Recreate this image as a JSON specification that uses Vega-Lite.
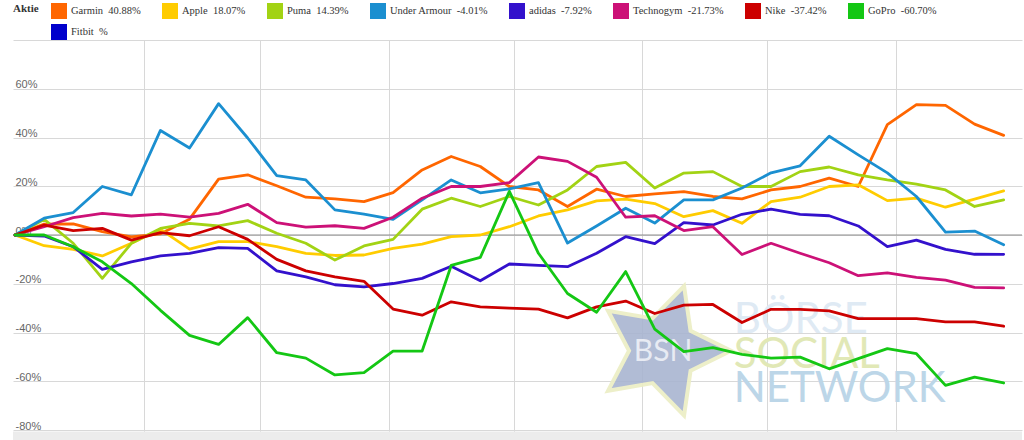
{
  "$schema": "https://vega.github.io/schema/vega-lite/v6.json",
  "width": 1009,
  "height": 400,
  "autosize": {"type": "none"},
  "padding": {"left": 13, "top": 40, "right": 2, "bottom": 0},
  "background": "white",
  "config": {"view": {"stroke": null}, "font": "Liberation Sans"},
  "datasets": {
    "kurse": [
      {"d": "2018-01-01", "Garmin": 0, "Apple": 0, "Puma": 0, "Under Armour": 0, "adidas": 0, "Technogym": 0, "Nike": 0, "GoPro": 0},
      {"d": "2018-01-08", "Garmin": 4.5, "Apple": -4.4, "Puma": 6.4, "Under Armour": 6.9, "adidas": -0.4, "Technogym": 3.4, "Nike": 4.1, "GoPro": 0},
      {"d": "2018-01-15", "Garmin": 4.6, "Apple": -5.9, "Puma": -3.4, "Under Armour": 9.2, "adidas": -4.8, "Technogym": 7.1, "Nike": 1.8, "GoPro": -4.8},
      {"d": "2018-01-22", "Garmin": 1.4, "Apple": -8.6, "Puma": -17.8, "Under Armour": 19.9, "adidas": -14.1, "Technogym": 8.9, "Nike": 2.7, "GoPro": -11},
      {"d": "2018-01-29", "Garmin": -0.8, "Apple": -3.4, "Puma": -3.4, "Under Armour": 16.5, "adidas": -11, "Technogym": 7.8, "Nike": -2.1, "GoPro": -19.9},
      {"d": "2018-02-05", "Garmin": 0.5, "Apple": 2.3, "Puma": 2.7, "Under Armour": 42.9, "adidas": -8.6, "Technogym": 8.6, "Nike": 1, "GoPro": -30.9},
      {"d": "2018-02-12", "Garmin": 6.5, "Apple": -5.8, "Puma": 4.8, "Under Armour": 35.7, "adidas": -7.5, "Technogym": 7.3, "Nike": -0.3, "GoPro": -41.2},
      {"d": "2018-02-19", "Garmin": 22.9, "Apple": -2.7, "Puma": 3.7, "Under Armour": 53.9, "adidas": -5.2, "Technogym": 8.9, "Nike": 3.4, "GoPro": -44.9},
      {"d": "2018-02-26", "Garmin": 24.7, "Apple": -2.7, "Puma": 5.9, "Under Armour": 39.8, "adidas": -5.5, "Technogym": 12.6, "Nike": -1.8, "GoPro": -33.9},
      {"d": "2018-03-05", "Garmin": 20.2, "Apple": -4.8, "Puma": 0.7, "Under Armour": 24.4, "adidas": -14.7, "Technogym": 5.1, "Nike": -10, "GoPro": -48.3},
      {"d": "2018-03-12", "Garmin": 15.5, "Apple": -7.5, "Puma": -3.4, "Under Armour": 22.6, "adidas": -17.2, "Technogym": 3.2, "Nike": -14.7, "GoPro": -50.5},
      {"d": "2018-03-19", "Garmin": 14.8, "Apple": -8.4, "Puma": -10.3, "Under Armour": 10.3, "adidas": -20.4, "Technogym": 3.8, "Nike": -17.2, "GoPro": -57.4},
      {"d": "2018-03-26", "Garmin": 13.7, "Apple": -8.2, "Puma": -4.5, "Under Armour": 8.6, "adidas": -21.3, "Technogym": 2.7, "Nike": -19, "GoPro": -56.5},
      {"d": "2018-04-02", "Garmin": 17.4, "Apple": -5.5, "Puma": -1.8, "Under Armour": 6.4, "adidas": -19.9, "Technogym": 7.3, "Nike": -30.4, "GoPro": -47.6},
      {"d": "2018-04-09", "Garmin": 26.7, "Apple": -3.7, "Puma": 10.6, "Under Armour": 14.4, "adidas": -17.8, "Technogym": 15.1, "Nike": -32.9, "GoPro": -47.6},
      {"d": "2018-04-16", "Garmin": 32.2, "Apple": -0.7, "Puma": 15.1, "Under Armour": 22.6, "adidas": -12.8, "Technogym": 19.9, "Nike": -27.4, "GoPro": -12.5},
      {"d": "2018-04-23", "Garmin": 28.1, "Apple": 0, "Puma": 11.7, "Under Armour": 17.3, "adidas": -18.8, "Technogym": 19.9, "Nike": -29.5, "GoPro": -9.2},
      {"d": "2018-04-30", "Garmin": 19.9, "Apple": 3.4, "Puma": 15.8, "Under Armour": 18.9, "adidas": -11.9, "Technogym": 21.5, "Nike": -30, "GoPro": 17.9},
      {"d": "2018-05-07", "Garmin": 18.5, "Apple": 7.8, "Puma": 12.3, "Under Armour": 21.5, "adidas": -12.5, "Technogym": 32, "Nike": -30.4, "GoPro": -7.5},
      {"d": "2018-05-14", "Garmin": 11.7, "Apple": 10.3, "Puma": 18.5, "Under Armour": -3.3, "adidas": -13, "Technogym": 30.2, "Nike": -34, "GoPro": -24},
      {"d": "2018-05-21", "Garmin": 18.8, "Apple": 14, "Puma": 28.1, "Under Armour": 3.7, "adidas": -7.5, "Technogym": 23.7, "Nike": -29.5, "GoPro": -31.7},
      {"d": "2018-05-28", "Garmin": 15.8, "Apple": 14.7, "Puma": 29.8, "Under Armour": 11, "adidas": -0.7, "Technogym": 7.3, "Nike": -27.1, "GoPro": -15},
      {"d": "2018-06-04", "Garmin": 16.9, "Apple": 12.9, "Puma": 19.3, "Under Armour": 4.9, "adidas": -3.5, "Technogym": 7.9, "Nike": -32.2, "GoPro": -38.6},
      {"d": "2018-06-11", "Garmin": 17.8, "Apple": 7.5, "Puma": 25.4, "Under Armour": 14.4, "adidas": 5.1, "Technogym": 1.8, "Nike": -28.8, "GoPro": -47.8},
      {"d": "2018-06-18", "Garmin": 15.8, "Apple": 10, "Puma": 26, "Under Armour": 14.4, "adidas": 4.1, "Technogym": 3.4, "Nike": -28.5, "GoPro": -46.2},
      {"d": "2018-06-25", "Garmin": 14.8, "Apple": 4.8, "Puma": 19.9, "Under Armour": 19.3, "adidas": 8.5, "Technogym": -8, "Nike": -35.9, "GoPro": -49},
      {"d": "2018-07-02", "Garmin": 18.5, "Apple": 13.7, "Puma": 19.9, "Under Armour": 25.5, "adidas": 10.6, "Technogym": -3.4, "Nike": -30.5, "GoPro": -50.5},
      {"d": "2018-07-09", "Garmin": 19.9, "Apple": 15.5, "Puma": 26, "Under Armour": 28.4, "adidas": 8.5, "Technogym": -7.5, "Nike": -30.5, "GoPro": -50.1},
      {"d": "2018-07-16", "Garmin": 23.3, "Apple": 19.9, "Puma": 27.9, "Under Armour": 40.5, "adidas": 7.9, "Technogym": -11.4, "Nike": -31.1, "GoPro": -54.9},
      {"d": "2018-07-23", "Garmin": 19.9, "Apple": 20.6, "Puma": 24.7, "Under Armour": 32.9, "adidas": 3.7, "Technogym": -16.7, "Nike": -34.3, "GoPro": -50.7},
      {"d": "2018-07-30", "Garmin": 45.3, "Apple": 14.1, "Puma": 22.6, "Under Armour": 25.5, "adidas": -4.8, "Technogym": -15.5, "Nike": -34.3, "GoPro": -46.6},
      {"d": "2018-08-06", "Garmin": 53.5, "Apple": 15.1, "Puma": 20.9, "Under Armour": 15.8, "adidas": -2.1, "Technogym": -17.4, "Nike": -34.3, "GoPro": -48.7},
      {"d": "2018-08-13", "Garmin": 53.2, "Apple": 11.4, "Puma": 18.5, "Under Armour": 1.2, "adidas": -5.9, "Technogym": -18.5, "Nike": -35.6, "GoPro": -61.7},
      {"d": "2018-08-20", "Garmin": 45.5, "Apple": 14.7, "Puma": 11.7, "Under Armour": 1.6, "adidas": -7.9, "Technogym": -21.5, "Nike": -35.6, "GoPro": -58.3},
      {"d": "2018-08-27", "Garmin": 40.88, "Apple": 18.07, "Puma": 14.39, "Under Armour": -4.01, "adidas": -7.92, "Technogym": -21.73, "Nike": -37.42, "GoPro": -60.7}
    ],
    "namen": [
      {"Name": "Garmin", "Aktie": "Garmin\u00a0 40.88%"},
      {"Name": "Apple", "Aktie": "Apple\u00a0 18.07%"},
      {"Name": "Puma", "Aktie": "Puma\u00a0 14.39%"},
      {"Name": "Under Armour", "Aktie": "Under Armour\u00a0 -4.01%"},
      {"Name": "adidas", "Aktie": "adidas\u00a0 -7.92%"},
      {"Name": "Technogym", "Aktie": "Technogym\u00a0 -21.73%"},
      {"Name": "Nike", "Aktie": "Nike\u00a0 -37.42%"},
      {"Name": "GoPro", "Aktie": "GoPro\u00a0 -60.70%"},
      {"Name": "Fitbit", "Aktie": "Fitbit\u00a0 %"}
    ]
  },
  "layer": [
    {
      "data": {"values": [{}]},
      "mark": {"type": "rect", "color": "#ececec"},
      "encoding": {"y": {"datum": -80.6}, "y2": {"datum": -84.1}}
    },
    {
      "data": {"values": [{}]},
      "mark": {"type": "rule", "color": "#8c8c8c", "strokeWidth": 1},
      "encoding": {"y": {"datum": 0}}
    },
    {
      "data": {"values": [{}]},
      "mark": {
        "type": "point",
        "shape": "M1,0L0.4045,0.2939L0.309,0.951L-0.1545,0.4755L-0.809,0.588L-0.5,0L-0.809,-0.588L-0.1545,-0.4755L0.309,-0.951L0.4045,-0.2939Z",
        "size": 18496,
        "filled": true,
        "fill": "#a9b5d1",
        "stroke": "#eceec4",
        "strokeWidth": 4,
        "opacity": 0.9
      },
      "encoding": {
        "x": {"datum": {"year": 2018, "month": 6, "date": 6, "utc": true}, "type": "temporal"},
        "y": {"datum": -47.5}
      }
    },
    {
      "data": {"values": [{}]},
      "mark": {"type": "text", "text": "BSN", "align": "center", "baseline": "middle", "font": "Lato", "fontSize": 30, "color": "#e8ebf3"},
      "encoding": {
        "x": {"datum": {"year": 2018, "month": 6, "date": 6, "utc": true}, "type": "temporal"},
        "y": {"datum": -48}
      }
    },
    {
      "data": {"values": [{}]},
      "mark": {"type": "text", "text": "BÖRSE", "align": "left", "baseline": "alphabetic", "font": "Lato", "fontSize": 42, "color": "#dfeaf4"},
      "encoding": {
        "x": {"datum": {"year": 2018, "month": 6, "date": 23, "utc": true}, "type": "temporal"},
        "y": {"datum": -40}
      }
    },
    {
      "data": {"values": [{}]},
      "mark": {"type": "text", "text": "SOCIAL", "align": "left", "baseline": "alphabetic", "font": "Lato", "fontSize": 42, "color": "#e1e8b6"},
      "encoding": {
        "x": {"datum": {"year": 2018, "month": 6, "date": 23, "utc": true}, "type": "temporal"},
        "y": {"datum": -54.6}
      }
    },
    {
      "data": {"values": [{}]},
      "mark": {"type": "text", "text": "NETWORK", "align": "left", "baseline": "alphabetic", "font": "Lato", "fontSize": 42, "color": "#bcd6e8"},
      "encoding": {
        "x": {"datum": {"year": 2018, "month": 6, "date": 23, "utc": true}, "type": "temporal"},
        "y": {"datum": -68.5}
      }
    },
    {
      "data": {"name": "kurse"},
      "transform": [
        {"fold": ["Garmin", "Apple", "Puma", "Under Armour", "adidas", "Technogym", "Nike", "GoPro"], "as": ["Name", "pct"]},
        {"lookup": "Name", "from": {"data": {"name": "namen"}, "key": "Name", "fields": ["Aktie"]}}
      ],
      "mark": {"type": "line", "strokeWidth": 2.8, "strokeJoin": "round", "strokeCap": "round"},
      "encoding": {
        "x": {
          "field": "d",
          "type": "temporal",
          "scale": {
            "type": "utc",
            "domain": [
              {"year": 2017, "month": 12, "date": 31, "hours": 12, "utc": true},
              {"year": 2018, "month": 8, "date": 31, "hours": 10, "utc": true}
            ]
          },
          "axis": {
            "title": null,
            "labels": false,
            "ticks": false,
            "domain": false,
            "grid": true,
            "gridColor": "#d8d8d8",
            "values": [
              {"year": 2018, "month": 2, "date": 1, "utc": true},
              {"year": 2018, "month": 3, "date": 1, "utc": true},
              {"year": 2018, "month": 4, "date": 1, "utc": true},
              {"year": 2018, "month": 5, "date": 1, "utc": true},
              {"year": 2018, "month": 6, "date": 1, "utc": true},
              {"year": 2018, "month": 7, "date": 1, "utc": true},
              {"year": 2018, "month": 8, "date": 1, "utc": true}
            ]
          }
        },
        "y": {
          "field": "pct",
          "type": "quantitative",
          "scale": {"domain": [-84.1, 80], "nice": false, "zero": false},
          "axis": {
            "title": null,
            "values": [-80, -60, -40, -20, 0, 20, 40, 60, 80],
            "labelExpr": "datum.value >= 80 ? '' : datum.value + '%'",
            "grid": true,
            "gridColor": "#d8d8d8",
            "domain": false,
            "ticks": false,
            "labelAlign": "left",
            "labelPadding": -2,
            "labelBaseline": "alphabetic",
            "labelOffset": -1,
            "labelColor": "#666666",
            "labelFontSize": 11,
            "labelFont": "Liberation Sans",
            "labelFlush": false,
            "labelOverlap": false
          }
        },
        "color": {
          "field": "Aktie",
          "type": "nominal",
          "scale": {
            "domain": ["Garmin\u00a0 40.88%", "Apple\u00a0 18.07%", "Puma\u00a0 14.39%", "Under Armour\u00a0 -4.01%", "adidas\u00a0 -7.92%", "Technogym\u00a0 -21.73%", "Nike\u00a0 -37.42%", "GoPro\u00a0 -60.70%", "Fitbit\u00a0 %"],
            "range": ["#ff6600", "#ffcc00", "#a2d314", "#1b8fd0", "#3311cc", "#cc1177", "#cc0000", "#14c714", "#0000cc"]
          },
          "legend": {
            "orient": "none",
            "legendX": 0,
            "legendY": -37,
            "direction": "horizontal",
            "columns": 8,
            "title": "Aktie",
            "titleOrient": "left",
            "titleAnchor": "start",
            "titleFont": "Liberation Serif",
            "titleFontSize": 11,
            "titleFontWeight": "bold",
            "titleColor": "#333333",
            "titlePadding": 12,
            "titleBaseline": "top",
            "symbolType": "square",
            "symbolSize": 256,
            "symbolStrokeWidth": 0,
            "symbolOpacity": 1,
            "labelFont": "Liberation Serif",
            "labelFontSize": 10.5,
            "labelColor": "#333333",
            "labelOffset": 4,
            "labelLimit": 300,
            "columnPadding": 21,
            "rowPadding": 5,
            "encode": {
              "symbols": {
                "update": {
                  "fill": {"scale": "color", "field": "value"},
                  "stroke": {"value": "transparent"}
                }
              }
            }
          }
        }
      }
    }
  ]
}
